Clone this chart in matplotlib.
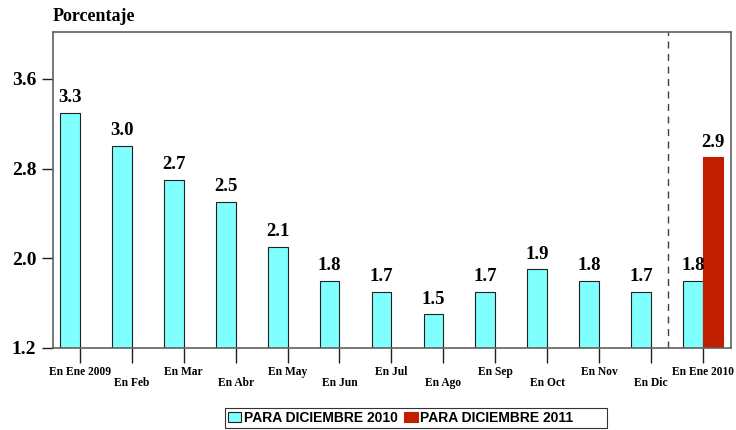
import matplotlib.pyplot as plt
import numpy as np

labels = ['En Ene 2009', 'En Feb', 'En Mar', 'En Abr', 'En May', 'En Jun', 'En Jul',
          'En Ago', 'En Sep', 'En Oct', 'En Nov', 'En Dic', 'En Ene 2010']
dic2010 = [3.3, 3.0, 2.7, 2.5, 2.1, 1.8, 1.7, 1.5, 1.7, 1.9, 1.8, 1.7, 1.8]
dic2011_pos = [12]
dic2011 = [2.9]
yticks = [1.2, 2.0, 2.8, 3.6]

serif = 'Liberation Serif'
fig = plt.figure(figsize=(7.36, 4.30), dpi=100)
ax = fig.add_axes([0.072, 0.191, 0.921, 0.735])

x = np.arange(len(labels))
w = 0.38
ax.bar(x - w / 2, dic2010, width=w, color='#80FFFF', edgecolor='#202020',
       linewidth=0.8, label='PARA DICIEMBRE 2010')
ax.bar(np.array(dic2011_pos) + w / 2, dic2011, width=w, color='#C02000', edgecolor='#C02000',
       linewidth=0.8, label='PARA DICIEMBRE 2011')

for xi, v in zip(x, dic2010):
    ax.text(xi - w / 2, v + 0.06, f'{v:.1f}', ha='center', va='bottom',
            family=serif, fontweight='bold', fontsize=13.5)
for xi, v in zip(dic2011_pos, dic2011):
    ax.text(xi + w / 2, v + 0.06, f'{v:.1f}', ha='center', va='bottom',
            family=serif, fontweight='bold', fontsize=13.5)

# separador entre 2009 y 2010
ax.axvline(11.33, color='#404040', linestyle=(0, (5, 4)), linewidth=1)

ax.set_ylim(1.2, 4.02)
ax.set_xlim(-0.52, 12.54)
ax.set_yticks(yticks)
ax.set_yticklabels([f'{t:.1f}' for t in yticks], family=serif, fontweight='bold', fontsize=14)
ax.set_xticks(x)
ax.set_xticklabels([])
for xi, lab in zip(x, labels):
    off = -0.076 if xi % 2 == 0 else -0.111
    ax.text(xi, off, lab, transform=ax.get_xaxis_transform(), ha='center', va='center',
            family=serif, fontweight='bold', fontsize=8.3)
ax.tick_params(axis='x', length=11, width=1, color='#202020')
ax.tick_params(axis='y', length=8, width=1, color='#202020', pad=4)
for s in ax.spines.values():
    s.set_color('#606060')
    s.set_linewidth(1.2)

fig.text(0.072, 0.943, 'Porcentaje', family=serif, fontweight='bold', fontsize=13,
         ha='left', va='bottom')

leg = fig.legend(loc='center left', bbox_to_anchor=(0.296, 0.028), ncol=2, frameon=True,
                 fancybox=False, edgecolor='black', handlelength=1.0, handleheight=0.7,
                 handletextpad=0.2, columnspacing=0.4, borderpad=0.2,
                 prop={'family': 'Liberation Sans', 'weight': 'bold', 'size': 10})
leg.get_frame().set_linewidth(0.8)
leg.texts[1].set_text('PARA DICIEMBRE 2011' + '\u2007' * 4)

fig.savefig('out.png', dpi=100)
